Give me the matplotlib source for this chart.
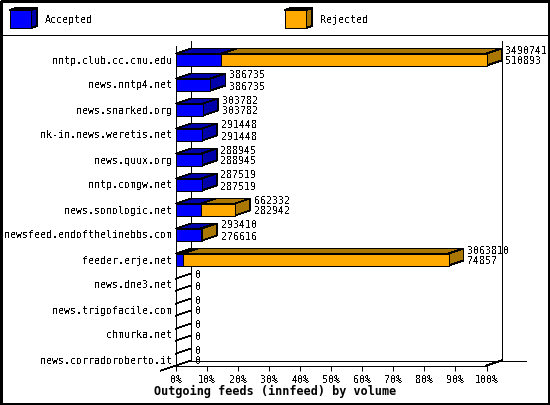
import matplotlib
matplotlib.use("Agg")
import matplotlib.pyplot as plt
from matplotlib.patches import Polygon, Rectangle

hosts = ["nntp.club.cc.cmu.edu", "news.nntp4.net", "news.snarked.org",
         "nk-in.news.weretis.net", "news.quux.org", "nntp.comgw.net",
         "news.sonologic.net", "newsfeed.endofthelinebbs.com", "feeder.erje.net",
         "news.dne3.net", "news.trigofacile.com", "chmurka.net",
         "news.corradoroberto.it"]
offered = [3490741, 386735, 303782, 291448, 288945, 287519, 662332,
           293410, 3063810, 0, 0, 0, 0]
accepted = [510893, 386735, 303782, 291448, 288945, 287519, 282942,
            276616, 74857, 0, 0, 0, 0]
pct_ticks = [0, 10, 20, 30, 40, 50, 60, 70, 80, 90, 100]

BLUE, BLUE_DARK = "#0000ff", "#0000aa"
ORANGE, ORANGE_DARK = "#ffaa00", "#aa7700"
W, H = 550, 405
LW = 0.6

plt.rcParams["font.family"] = "DejaVu Sans Mono"
plt.rcParams["font.size"] = 7.2
plt.rcParams["text.antialiased"] = False

fig = plt.figure(figsize=(W / 100, H / 100), dpi=100)
ax = fig.add_axes([176 / W, 1 - 365.5 / H, 310.5 / W, 320 / H])
ax.set_xlim(0, 100)
ax.set_ylim(12.24, -0.56)
ax.patch.set_visible(False)
for s in ["top", "right", "bottom"]:
    ax.spines[s].set_visible(False)
ax.spines["left"].set_linewidth(0.72)

# depth of the fake 3d look, 15px across and 5px up
dx = 15 / 310 * 100
dy = 5 / 25
half = 6 / 25
base = 12.24


def bar(row, val, front, dark, side=True):
    top, bot = row - half, row + half
    opts = dict(ec="black", lw=LW, antialiased=False, clip_on=False, zorder=3)
    if val == 0:
        # empty host, only the two slanted lines on the side wall
        ax.plot([0, dx], [top, top - dy], color="black", lw=LW, antialiased=False, clip_on=False, zorder=3)
        ax.plot([0, dx], [bot, bot - dy], color="black", lw=LW, antialiased=False, clip_on=False, zorder=3)
        return
    ax.add_patch(Polygon([(0, top), (dx, top - dy), (val + dx, top - dy), (val, top)], fc=dark, **opts))
    if side:
        ax.add_patch(Polygon([(val, top), (val + dx, top - dy), (val + dx, bot - dy), (val, bot)], fc=dark, **opts))
    ax.add_patch(Rectangle((0, top), val, bot - top, fc=front, **opts))


def line(xs, ys):
    ax.plot(xs, ys, color="black", lw=LW, clip_on=False, antialiased=False, zorder=2)


# walls and floor
line([dx, dx], [base - dy, -0.56 - dy])
line([100 + dx, 100 + dx], [base - dy, -0.56 - dy])
line([dx, 100 + dx + 8], [base - dy, base - dy])
line([0, 100], [base, base])
line([-dx, dx], [base + dy, base - dy])
line([100, 100 + dx], [base, base - dy])

top_val = max(offered)
for i in range(len(hosts)):
    off_pct = offered[i] / top_val * 100
    acc_pct = accepted[i] / top_val * 100
    bar(i, off_pct, ORANGE, ORANGE_DARK)
    bar(i, acc_pct, BLUE, BLUE_DARK, side=accepted[i] == offered[i])
    ax.annotate(str(offered[i]), (off_pct + dx, i), xytext=(4, 9), textcoords="offset pixels",
                va="center", ha="left", annotation_clip=False, zorder=4)
    ax.annotate(str(accepted[i]), (off_pct + dx, i), xytext=(4, -2), textcoords="offset pixels",
                va="center", ha="left", annotation_clip=False, zorder=4)

ax.set_yticks(range(len(hosts)))
ax.set_yticklabels(hosts)
ax.tick_params(axis="y", length=0, pad=3)
ax.set_xticks(pct_ticks)
ax.set_xticklabels([str(p) + "%" for p in pct_ticks])
ax.tick_params(axis="x", length=3.6, width=0.72, pad=3)
fig.text(0.5, 1 - 391.5 / H, "Outgoing feeds (innfeed) by volume", fontsize=8.5, fontweight="bold",
         ha="center", va="center", antialiased=True)

# outer frame and legend live in figure pixels
bg = fig.add_axes([0, 0, 1, 1], zorder=-1)
bg.set_xlim(0, W)
bg.set_ylim(H, 0)
bg.axis("off")
bg.add_patch(Rectangle((0.5, 0.5), W - 1.5, H - 1.5, fc="white", ec="black", lw=1.0, antialiased=False))
bg.plot([0, W], [35, 35], color="black", lw=0.72, antialiased=False)


def swatch(x, name, front, dark):
    opts = dict(ec="black", lw=LW, antialiased=False)
    bg.add_patch(Polygon([(x, 10), (x + 6, 8), (x + 27, 8), (x + 21, 10)], fc=dark, **opts))
    bg.add_patch(Polygon([(x + 21, 10), (x + 27, 8), (x + 27, 26), (x + 21, 28)], fc=dark, **opts))
    bg.add_patch(Rectangle((x, 10), 21, 18, fc=front, **opts))
    bg.text(x + 35, 20, name, va="center", ha="left")


swatch(10, "Accepted", BLUE, BLUE_DARK)
swatch(285, "Rejected", ORANGE, ORANGE_DARK)

fig.savefig("out.png", dpi=100)
